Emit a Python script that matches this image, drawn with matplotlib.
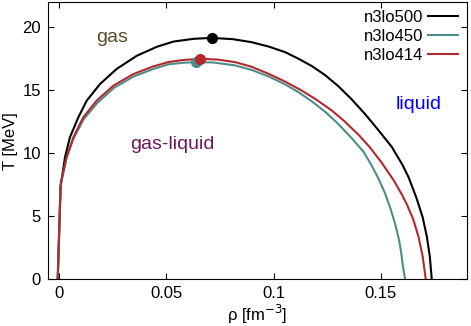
import matplotlib
matplotlib.use("Agg")
import matplotlib.pyplot as plt

plt.rcParams['font.family'] = ['Liberation Sans', 'DejaVu Sans']

# binodal curves (rho in fm^-3, T in MeV)
rho_500 = [-0.0005, 0.0008, 0.0029, 0.0052, 0.0091, 0.0130, 0.0192, 0.0269,
           0.0363, 0.0456, 0.0534, 0.0630, 0.0712, 0.0810, 0.0898, 0.0980,
           0.1054, 0.1116, 0.1180, 0.1240, 0.1300, 0.1360, 0.1427, 0.1490,
           0.1551, 0.1600, 0.1629, 0.1667, 0.1695, 0.1714, 0.1728, 0.1737]
T_500 = [0.0, 7.32, 9.69, 11.27, 12.85, 14.17, 15.49, 16.68,
         17.73, 18.44, 18.86, 19.08, 19.15, 19.05, 18.81, 18.45,
         18.02, 17.50, 16.90, 16.20, 15.35, 14.35, 13.10, 11.80,
         10.50, 9.10, 8.10, 6.40, 4.90, 3.40, 1.80, 0.0]

rho_450 = [-0.0005, 0.0009, 0.0036, 0.0068, 0.0116, 0.0180, 0.0258, 0.0350,
           0.0443, 0.0510, 0.0580, 0.0639, 0.0720, 0.0821, 0.0900, 0.0976,
           0.1050, 0.1116, 0.1180, 0.1240, 0.1300, 0.1364, 0.1420, 0.1458,
           0.1490, 0.1520, 0.1545, 0.1568, 0.1585, 0.1594, 0.1603, 0.1613]
T_450 = [0.0, 7.5, 9.6, 11.15, 12.7, 14.0, 15.2, 16.1,
         16.7, 17.05, 17.18, 17.23, 17.2, 16.97, 16.6, 16.1,
         15.5, 14.85, 14.1, 13.3, 12.35, 11.2, 10.1, 9.0,
         7.95, 6.8, 5.6, 4.3, 3.1, 2.2, 1.0, 0.0]

rho_414 = [-0.0005, 0.0009, 0.0036, 0.0068, 0.0114, 0.0176, 0.0254, 0.0347,
           0.0440, 0.0510, 0.0580, 0.0658, 0.0740, 0.0821, 0.0900, 0.0976,
           0.1050, 0.1131, 0.1200, 0.1271, 0.1330, 0.1397, 0.1450, 0.1504,
           0.1560, 0.1597, 0.1621, 0.1650, 0.1675, 0.1695, 0.1709]
T_414 = [0.0, 7.59, 9.69, 11.27, 12.85, 14.17, 15.36, 16.28,
         16.89, 17.23, 17.40, 17.49, 17.43, 17.23, 16.85, 16.31,
         15.72, 14.98, 14.25, 13.40, 12.55, 11.45, 10.45, 9.25,
         7.85, 6.75, 5.95, 4.80, 3.40, 1.80, 0.0]

# critical points
crit_rho = [0.0712, 0.0639, 0.0658]
crit_T = [19.15, 17.2, 17.49]

labels = ['n3lo500', 'n3lo450', 'n3lo414']
colors = ['black', '#4e8c8c', '#b3282d']

fig, ax = plt.subplots(figsize=(4.71, 3.26), dpi=100)

ax.plot(rho_500, T_500, color=colors[0], lw=1.5, label=labels[0])
ax.plot(rho_450, T_450, color=colors[1], lw=1.5, label=labels[1])
ax.plot(rho_414, T_414, color=colors[2], lw=1.5, label=labels[2])
for r, t, c in zip(crit_rho, crit_T, colors):
    ax.plot(r, t, 'o', color=c, ms=7)

ax.text(0.0249, 18.84, 'gas', color='#5a4a2a', fontsize=14, ha='center', va='baseline')
ax.text(0.0527, 10.36, 'gas-liquid', color='#6b1a5a', fontsize=14, ha='center', va='baseline')
ax.text(0.1677, 13.52, 'liquid', color='blue', fontsize=14, ha='center', va='baseline')

ax.set_xlim(-0.005, 0.19)
ax.set_ylim(0, 22)
ax.set_xticks([0, 0.05, 0.1, 0.15])
ax.set_xticklabels(['0', '0.05', '0.1', '0.15'])
ax.set_yticks([0, 5, 10, 15, 20])
ax.tick_params(direction='in', top=True, right=True, length=4, labelsize=12, pad=5)
ax.set_xlabel('ρ [fm$^{-3}$]', fontsize=12, labelpad=1)
ax.set_ylabel('T [MeV]', fontsize=12, labelpad=3)

ax.legend(loc='upper right', frameon=False, markerfirst=False, fontsize=12,
          handlelength=1.8, handletextpad=0.3, labelspacing=0.22,
          borderpad=0.1, borderaxespad=0.4)

plt.subplots_adjust(left=0.102, right=0.991, top=0.994, bottom=0.143)
plt.savefig('out.png')
